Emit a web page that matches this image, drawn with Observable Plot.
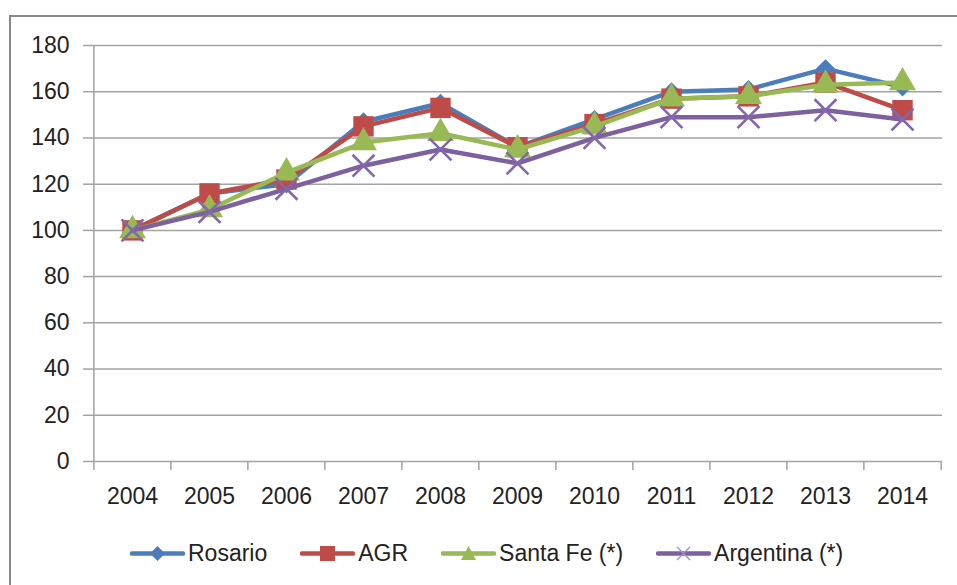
<!DOCTYPE html>
<html>
<head>
<meta charset="utf-8">
<script src="https://cdn.jsdelivr.net/npm/d3@7"></script>
<script src="https://cdn.jsdelivr.net/npm/@observablehq/plot@0.6"></script>
<style>
  html, body { margin: 0; padding: 0; background: #fff; overflow: hidden; }
  #wrap { position: relative; width: 957px; height: 585px; overflow: hidden; font-family: "Liberation Sans", Arial, sans-serif; }
  #frame { position: absolute; left: 9px; top: 15px; width: 2000px; height: 2000px; border: 2px solid #8a8a8a; box-sizing: border-box; }
  #chart { position: absolute; left: 0; top: 0; }
  #legend { position: absolute; left: 130px; top: 538px; height: 30px; display: flex; align-items: center; gap: 33px; font-size: 23px; color: #222; white-space: nowrap; }
  .item { display: flex; align-items: center; }
  .item svg { margin-right: 3px; }
</style>
</head>
<body>
<div id="wrap">
  <div id="frame"></div>
  <div id="chart"></div>
  <div id="legend"></div>
</div>
<script>
const years = ["2004","2005","2006","2007","2008","2009","2010","2011","2012","2013","2014"];
const rosario   = [100, 116, 120, 147, 155, 136, 148, 160, 161, 170, 162];
const agr       = [100, 116, 122, 145, 153, 136, 146, 157, 158, 164, 152];
const santaFe   = [100, 109, 125, 138, 142, 135, 145, 157, 158, 163, 164];
const argentina = [100, 108, 118, 128, 135, 129, 140, 149, 149, 152, 148];
const seriesNames = ["Rosario", "AGR", "Santa Fe (*)", "Argentina (*)"];
const yTicks = [0, 20, 40, 60, 80, 100, 120, 140, 160, 180];

const colors = ["#4A7EBB", "#BE4B48", "#98B954", "#7D60A0"];
const symbols = ["diamond2", "square", "triangle", "times"];
const radii = [8.5, 11.5, 10, 10];

const values = [rosario, agr, santaFe, argentina];
const table = [];
seriesNames.forEach((s, i) => years.forEach((y, j) => table.push({series: s, year: y, value: values[i][j]})));

const W = 957, H = 520, ML = 92, MR = 15, MT = 45, MB = 59;
const step = (W - ML - MR) / years.length;
const grid = "#a3a3a3";

const seriesMarks = [];
seriesNames.forEach((s, i) => {
  const d = table.filter(r => r.series === s);
  seriesMarks.push(Plot.line(d, {x: "year", y: "value", stroke: colors[i], strokeWidth: 4.5, strokeLinejoin: "round", strokeLinecap: "round"}));
  if (symbols[i] === "times") {
    seriesMarks.push(Plot.dot(d, {x: "year", y: "value", symbol: "times", r: radii[i], stroke: "#8466ac", strokeWidth: 2.6, fill: "none"}));
  } else {
    seriesMarks.push(Plot.dot(d, {x: "year", y: "value", symbol: symbols[i], r: radii[i], fill: colors[i], stroke: "none"}));
  }
});

const chart = Plot.plot({
  width: W, height: H,
  marginLeft: ML, marginRight: MR, marginTop: MT, marginBottom: MB,
  x: {type: "point", domain: years, padding: 0.5, label: null},
  y: {domain: [0, 180], label: null},
  style: {fontFamily: "Liberation Sans, Arial, sans-serif", fontSize: "23px", color: "#222", background: "transparent", overflow: "visible"},
  marks: [
    Plot.gridY(yTicks, {stroke: grid, strokeOpacity: 1, strokeWidth: 1.5}),
    Plot.ruleX([years[0]], {dx: -step / 2, stroke: grid, strokeWidth: 1.5}),
    Plot.axisY(yTicks, {tickSize: 9, tickPadding: 14, stroke: grid, strokeWidth: 1.5, fill: "#222", label: null}),
    Plot.axisX({tickSize: 0, tickPadding: 26, fill: "#222", label: null}),
    Plot.axisX(years, {tickSize: 9, dx: -step / 2, tickFormat: () => "", stroke: grid, strokeWidth: 1.5, label: null}),
    Plot.axisX([years[years.length - 1]], {tickSize: 9, dx: step / 2, tickFormat: () => "", stroke: grid, strokeWidth: 1.5, label: null}),
    ...seriesMarks
  ]
});
document.getElementById("chart").appendChild(chart);

// legend
const legend = document.getElementById("legend");
seriesNames.forEach((s, i) => {
  const item = document.createElement("div");
  item.className = "item";
  let marker = "";
  const c = colors[i];
  if (i === 0) marker = `<path d="M27.5,6 L35,13.5 L27.5,21 L20,13.5Z" fill="${c}"/>`;
  if (i === 1) marker = `<rect x="20" y="6" width="15" height="15" fill="${c}"/>`;
  if (i === 2) marker = `<path d="M27.5,6 L35,20 L20,20Z" fill="${c}"/>`;
  if (i === 3) marker = `<path d="M21,7 L34,20 M34,7 L21,20" stroke="#a08cc4" stroke-width="1.3"/>`;
  item.innerHTML = `<svg width="55" height="27"><line x1="2" x2="53" y1="13.5" y2="13.5" stroke="${c}" stroke-width="4.5" stroke-linecap="round"/>${marker}</svg><span>${s}</span>`;
  legend.appendChild(item);
});
</script>
</body>
</html>
